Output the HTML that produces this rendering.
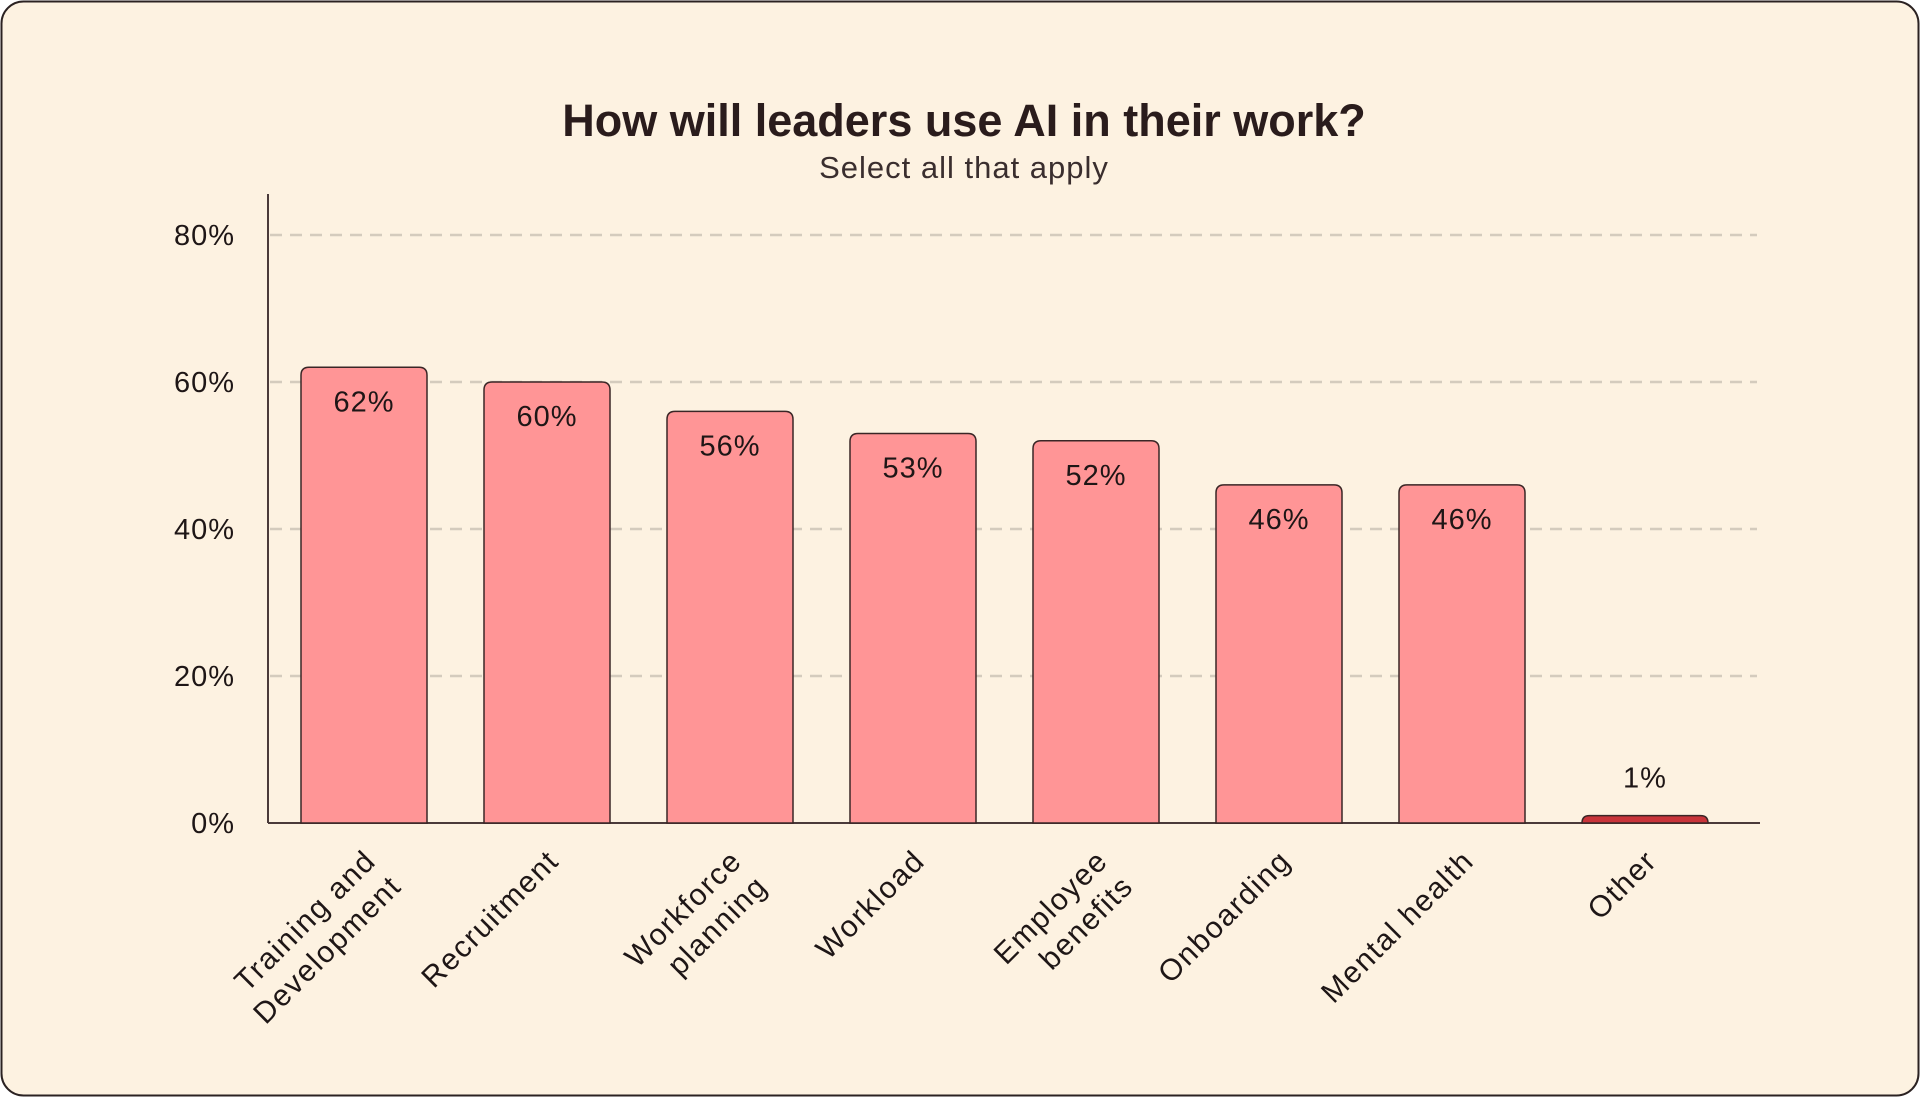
<!DOCTYPE html>
<html><head><meta charset="utf-8">
<style>
html,body{margin:0;padding:0;background:#fff;}
svg{display:block;font-family:"Liberation Sans",sans-serif;}
</style></head>
<body>
<svg id="chart" width="1920" height="1097" viewBox="0 0 1920 1097">
<rect x="1.5" y="1.5" width="1917" height="1094" rx="22" fill="#fdf2e1" stroke="#2b2222" stroke-width="2"/>
<text x="964" y="136" text-anchor="middle" font-size="45" font-weight="bold" fill="#2a1c1c">How will leaders use AI in their work?</text>
<text x="964" y="178" text-anchor="middle" font-size="31" letter-spacing="1" fill="#3a2e2e">Select all that apply</text>
<g id="grid"></g><g id="bars"></g><g id="labels"></g>
</svg>
<script>
const categories = [["Training and","Development"],["Recruitment"],["Workforce","planning"],["Workload"],["Employee","benefits"],["Onboarding"],["Mental health"],["Other"]];
const values = [62,60,56,53,52,46,46,1];
const valueLabels = ["62%","60%","56%","53%","52%","46%","46%","1%"];
const ticks = [0,20,40,60,80];
const tickLabels = ["0%","20%","40%","60%","80%"];

const NS="http://www.w3.org/2000/svg";
const y0=823, yTop=235, vMax=80;
const yScale=v=>y0-(v/vMax)*(y0-yTop);
const x0=364, step=183, bw=126;
const xScale=i=>x0+i*step;
function mk(tag,attrs,parent){const e=document.createElementNS(NS,tag);for(const k in attrs)e.setAttribute(k,attrs[k]);parent.appendChild(e);return e;}
const grid=document.getElementById('grid'), bars=document.getElementById('bars'), labels=document.getElementById('labels');

ticks.forEach((t,i)=>{
  const y=yScale(t);
  if(t>0){
    const l=mk('line',{x1:270,x2:1757,y1:y,y2:y,stroke:'#d4cbbd','stroke-width':2.5,'stroke-dasharray':'12 8'},grid);
    
    
  }
  const tx=mk('text',{x:235,y:y+10,'text-anchor':'end','font-size':29,'letter-spacing':1,fill:'#1e1616'},grid);
  tx.textContent=tickLabels[i];
  
  
});
const ya=mk('line',{x1:268,x2:268,y1:194,y2:y0,stroke:'#4a3a3a','stroke-width':2},grid);



values.forEach((v,i)=>{
  const cx=xScale(i), top=yScale(v), h=y0-top, r=Math.min(8,h);
  const x=cx-bw/2;
  const d=`M${x},${y0} L${x},${top+r} Q${x},${top} ${x+r},${top} L${x+bw-r},${top} Q${x+bw},${top} ${x+bw},${top+r} L${x+bw},${y0} Z`;
  const p=mk('path',{d:d,fill:v<5?'#c9343a':'#ff9596',stroke:'#3a2626','stroke-width':1.5},bars);
  
  
  const vt=mk('text',{x:cx,y:v<5?top-28:top+44,'text-anchor':'middle','font-size':29,'letter-spacing':1,fill:'#1e1616'},labels);
  vt.textContent=valueLabels[i];
  
  
  const lines=categories[i];
  const g=mk('g',{transform:`translate(${cx-2},847) rotate(-45)`},labels);
  
  
  const n=lines.length;
  lines.forEach((s,j)=>{
    const t=mk('text',{x:0,y:22+(j-(n-1)/2)*36+(n>1?18:0),'text-anchor':'end','font-size':30,'letter-spacing':1.6,fill:'#1e1616'},g);
    t.textContent=s;
  });
});
const xa=mk('line',{x1:268,x2:1760,y1:y0,y2:y0,stroke:'#4a3a3a','stroke-width':2},grid);


</script>
</body></html>
